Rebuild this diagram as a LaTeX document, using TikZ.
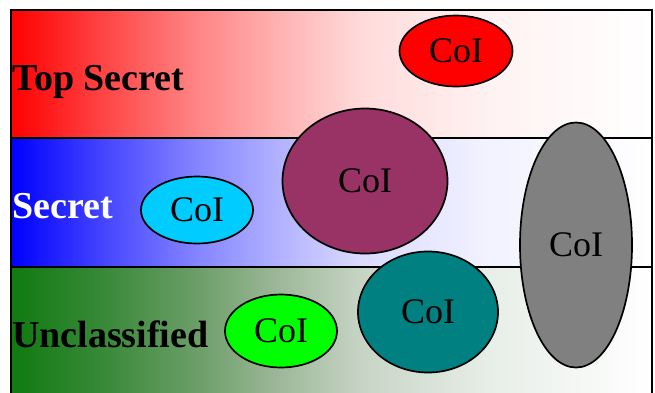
\documentclass[tikz,border=0pt]{standalone}
\usepackage{fontspec}
\setmainfont{Liberation Serif}
\usetikzlibrary{shapes.geometric}
\definecolor{tsred}{RGB}{255,0,0}
\definecolor{sblue}{RGB}{0,0,255}
\definecolor{ugreen}{RGB}{16,122,16}
\definecolor{coicyan}{RGB}{0,204,255}
\definecolor{coimaroon}{RGB}{153,51,102}
\definecolor{coiteal}{RGB}{0,128,128}
\definecolor{coigray}{RGB}{128,128,128}
\definecolor{coilime}{RGB}{0,255,0}
% muted greens for the lowest band's fade
\definecolor{ug1}{RGB}{58,138,58}
\definecolor{ug2}{RGB}{108,158,104}
\definecolor{ug3}{RGB}{158,184,154}
\definecolor{ug4}{RGB}{200,213,198}
\definecolor{ug5}{RGB}{232,238,232}
% band fades: strong colour on the left, easing into white towards the right
\newcommand{\bandfade}[2]{%
  \pgfdeclarehorizontalshading{#1}{100bp}{color(0bp)=(#2); color(25bp)=(#2);
    color(32.5bp)=(#2!72!white); color(39.5bp)=(#2!48!white);
    color(46bp)=(#2!30!white); color(52.5bp)=(#2!14!white);
    color(62.5bp)=(#2!5!white); color(75bp)=(white); color(100bp)=(white)}}
\bandfade{tsfade}{tsred}
\bandfade{secfade}{sblue}
\pgfdeclarehorizontalshading{uncfade}{100bp}{color(0bp)=(ugreen); color(25bp)=(ugreen);
  color(32.5bp)=(ug1); color(39.5bp)=(ug2); color(46bp)=(ug3);
  color(52.5bp)=(ug4); color(62.5bp)=(ug5); color(75bp)=(white); color(100bp)=(white)}
\tikzset{
  band/.style={draw=black, line width=2bp},
  levellabel/.style={anchor=base west, inner sep=0pt,
    font=\fontsize{38bp}{45bp}\selectfont\bfseries},
  coi/.style={ellipse, draw=black, line width=1.7bp, inner sep=0pt,
    font=\fontsize{36bp}{43bp}\selectfont},
}
\begin{document}
\begin{tikzpicture}[x=1bp, y=-1bp]
  \useasboundingbox (0,0) rectangle (655,392);
  \clip (0,0) rectangle (655,392);
  % classification bands
  \path[band, shading=tsfade] (11,10) rectangle (652,138) node[pos=0.5] (ts) {};
  \path[band, shading=secfade] (11,138) rectangle (652,267) node[pos=0.5] (sec) {};
  \path[band, shading=uncfade] (11,267) rectangle (652,410) node[pos=0.5] (unc) {};
  % level names
  \node[levellabel] (tslabel) at (12,90) {Top Secret};
  \node[levellabel, text=white] (seclabel) at (12,218) {Secret};
  \node[levellabel] (unclabel) at (12,347) {Unclassified};
  % communities of interest
  \node[coi, fill=tsred, minimum width=113bp, minimum height=71bp] (c1) at (456,51) {CoI};
  \node[coi, fill=coicyan, minimum width=112bp, minimum height=67bp] (c2) at (197,210) {CoI};
  \node[coi, fill=coimaroon, minimum width=165bp, minimum height=145bp] (c3) at (365,181) {CoI};
  \node[coi, fill=coilime, minimum width=112bp, minimum height=73bp] (c4) at (281,331) {CoI};
  \node[coi, fill=coiteal, minimum width=140bp, minimum height=121bp] (c5) at (428,312) {CoI};
  \node[coi, fill=coigray, minimum width=112bp, minimum height=245bp] (c6) at (576,245) {CoI};
\end{tikzpicture}
\end{document}
